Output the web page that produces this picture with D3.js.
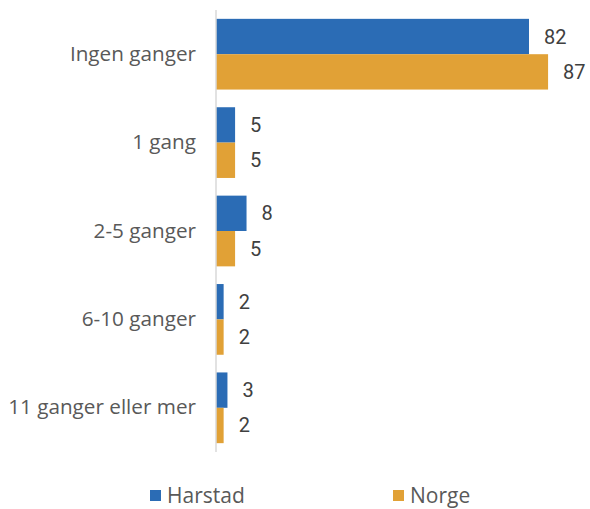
<!DOCTYPE html>
<html>
<head>
<meta charset="utf-8">
<script src="https://cdn.jsdelivr.net/npm/d3@7"></script>
<style>
  body { margin: 0; background: #fff; }
  svg { display: block; }
</style>
</head>
<body>
<svg id="chart" width="590" height="509"></svg>
<script>
const categories = ["Ingen ganger", "1 gang", "2-5 ganger", "6-10 ganger", "11 ganger eller mer"];
const seriesNames = ["Harstad", "Norge"];
const harstad = [82, 5, 8, 2, 3];
const norge = [87, 5, 5, 2, 2];
const colors = ["#2b6cb5", "#e1a136"];

const svg = d3.select("#chart");
const margin = { left: 216, top: 10, bottom: 57 };
const plotW = 3.817 * 100;
const plotH = 509 - margin.top - margin.bottom;

const x = d3.scaleLinear().domain([0, 100]).range([margin.left, margin.left + plotW]);
const y = d3.scaleBand().domain(categories).range([margin.top, margin.top + plotH]).paddingInner(0.2).paddingOuter(0.1);
const ySub = d3.scaleBand().domain(seriesNames).range([0, y.bandwidth()]);

const seriesData = [harstad, norge];

const groups = svg.selectAll("g.cat")
  .data(categories)
  .join("g")
  .attr("class", "cat")
  .attr("transform", d => `translate(0,${y(d)})`);

seriesNames.forEach((s, si) => {
  groups.append("rect")
    .attr("x", x(0))
    .attr("y", ySub(s))
    .attr("width", (d, i) => x(seriesData[si][i]) - x(0))
    .attr("height", ySub.bandwidth())
    .attr("fill", colors[si]);

  groups.append("text")
    .attr("x", (d, i) => x(seriesData[si][i]) + 15)
    .attr("y", ySub(s) + ySub.bandwidth() / 2)
    .attr("dy", "0.35em")
    .attr("font-family", "Roboto, sans-serif")
    .attr("font-size", 20)
    .attr("fill", "#404040")
    .text((d, i) => seriesData[si][i]);
});

// category axis
const yAxis = d3.axisLeft(y).tickSize(0).tickPadding(20);
const ax = svg.append("g")
  .attr("transform", `translate(${x(0)},0)`)
  .call(yAxis);
ax.select(".domain").remove();
ax.selectAll("text")
  .attr("font-family", "'Open Sans', sans-serif")
  .attr("font-size", 20.7)
  .attr("fill", "#595959");

svg.append("line")
  .attr("x1", x(0)).attr("x2", x(0))
  .attr("y1", margin.top).attr("y2", margin.top + plotH)
  .attr("stroke", "#d9d9d9")
  .attr("stroke-width", 1.5);

// legend
const legendX = [150, 393];
const legend = svg.selectAll("g.legend")
  .data(seriesNames)
  .join("g")
  .attr("class", "legend")
  .attr("transform", (d, i) => `translate(${legendX[i]},490)`);
legend.append("rect")
  .attr("width", 11).attr("height", 11)
  .attr("fill", (d, i) => colors[i]);
legend.append("text")
  .attr("x", 17)
  .attr("y", 5.5)
  .attr("dy", "0.35em")
  .attr("font-family", "'Open Sans', sans-serif")
  .attr("font-size", 21)
  .attr("fill", "#595959")
  .text(d => d);
</script>
</body>
</html>
